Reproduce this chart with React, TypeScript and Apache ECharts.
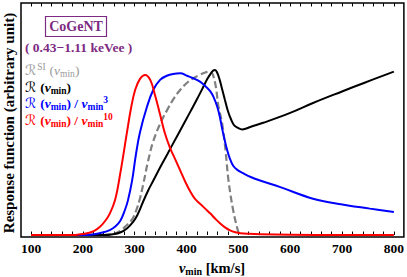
import React, { useEffect, useRef } from "react";
import * as echarts from "echarts";

// x positions (v_min, km/s) and response values (normalized) per curve
const grayV = [240, 258, 272, 283, 295, 303, 310, 316, 326, 336, 350, 363, 376, 388, 400, 413, 425, 436, 446, 451, 457, 461, 469, 475, 481, 490, 498, 502, 505];
const grayR = [0, 0.005, 0.025, 0.055, 0.095, 0.15, 0.22, 0.3, 0.45, 0.57, 0.68, 0.76, 0.83, 0.88, 0.92, 0.95, 0.97, 0.985, 0.99, 0.97, 0.89, 0.79, 0.67, 0.52, 0.33, 0.15, 0.04, 0.005, 0];

const blackV = [100, 200, 240, 258, 272, 285, 297, 305, 316, 326, 336, 350, 363, 375, 388, 400, 413, 423, 432, 440, 446, 451, 455, 459, 464, 469, 474, 480, 486, 492, 500, 507, 515, 523, 548, 600, 644, 700, 741, 800];
const blackR = [0, 0, 0, 0.005, 0.015, 0.04, 0.08, 0.12, 0.2, 0.27, 0.33, 0.415, 0.49, 0.56, 0.635, 0.705, 0.78, 0.84, 0.895, 0.945, 0.975, 0.995, 1.0, 0.985, 0.94, 0.88, 0.82, 0.75, 0.7, 0.665, 0.648, 0.64, 0.645, 0.655, 0.68, 0.74, 0.8, 0.87, 0.92, 0.99];

const blueV = [100, 200, 222, 238, 252, 262, 272, 281, 287, 295, 302, 310, 324, 336, 349, 362, 374, 388, 401, 413, 426, 437, 446, 453, 459, 464, 469, 474, 478, 484, 490, 498, 509, 525, 542, 581, 644, 691, 754, 800];
const blueR = [0, 0, 0.005, 0.015, 0.03, 0.05, 0.085, 0.15, 0.21, 0.33, 0.48, 0.62, 0.78, 0.88, 0.94, 0.965, 0.976, 0.98, 0.965, 0.95, 0.93, 0.9, 0.87, 0.83, 0.78, 0.72, 0.64, 0.57, 0.52, 0.46, 0.42, 0.395, 0.375, 0.35, 0.33, 0.29, 0.22, 0.19, 0.16, 0.14];

const redV = [100, 180, 195, 210, 222, 233, 243, 252, 262, 272, 285, 293, 301, 310, 320, 330, 339, 349, 358, 368, 378, 388, 398, 407, 416, 426, 436, 446, 455, 465, 475, 484, 494, 504, 520, 542, 600, 700, 800];
const redR = [0, 0, 0.004, 0.012, 0.025, 0.05, 0.085, 0.13, 0.21, 0.37, 0.62, 0.77, 0.88, 0.945, 0.97, 0.94, 0.85, 0.73, 0.62, 0.53, 0.46, 0.39, 0.32, 0.265, 0.22, 0.19, 0.16, 0.13, 0.1, 0.07, 0.045, 0.028, 0.017, 0.011, 0.007, 0.004, 0.001, 0, 0];

const xLabels = [100, 200, 300, 400, 500, 600, 700, 800];
const xTicks = [100, 120, 140, 160, 180, 200, 220, 240, 260, 280, 300, 320, 340, 360, 380, 400, 420, 440, 460, 480, 500, 520, 540, 560, 580, 600, 620, 640, 660, 680, 700, 720, 740, 760, 780, 800];

const zip = (a: number[], b: number[]) => a.map((v, i) => [v, b[i]]);

const SERIF = "'Liberation Serif', 'DejaVu Serif', serif";
const PURPLE = "#7d2a82";
const SP = "\u00a0";

function legendRich(color: string, bold: boolean) {
  const fw = bold ? "bold" : "normal";
  return {
    r: { fontFamily: "'DejaVu Sans', sans-serif", fontStyle: "italic", fontSize: 14, fontWeight: "normal", fill: color, lineHeight: 17, padding: [0, 4, 0, 0] },
    r0: { fontFamily: "'DejaVu Sans', sans-serif", fontStyle: "italic", fontSize: 14, fontWeight: "normal", fill: color, lineHeight: 17, padding: [0, 1, 0, 0] },
    t: { fontFamily: SERIF, fontSize: 13.5, fontWeight: fw, fill: color, lineHeight: 17 },
    v: { fontFamily: SERIF, fontSize: 13.5, fontWeight: fw, fontStyle: "italic", fill: color, lineHeight: 17 },
    sub: { fontFamily: SERIF, fontSize: 9.5, fontWeight: fw, fill: color, lineHeight: 10, verticalAlign: "bottom" },
    sup: { fontFamily: SERIF, fontSize: 9.5, fontWeight: fw, fill: color, lineHeight: 10, verticalAlign: "top", padding: [0, 4, 0, 0] },
  };
}

export default function App() {
  const ref = useRef<HTMLDivElement>(null);
  useEffect(() => {
    const chart = echarts.init(ref.current!, null, { renderer: "svg" });
    const tickCommon = {
      show: true,
      inside: true,
      length: 3.5,
      customValues: xTicks,
      lineStyle: { color: "#000", width: 1 },
    };
    chart.setOption({
      animation: false,
      backgroundColor: "#fff",
      grid: { left: 21, right: 3, top: 3, bottom: 40, show: true, borderColor: "#000", borderWidth: 1.5, backgroundColor: "transparent" },
      xAxis: [
        {
          type: "value",
          min: 80.7,
          max: 819.3,
          position: "bottom",
          axisLine: { show: false },
          splitLine: { show: false },
          axisTick: tickCommon,
          axisLabel: {
            customValues: xLabels,
            fontFamily: SERIF,
            fontWeight: "bold",
            fontSize: 13.5,
            color: "#000",
            margin: 4,
          },
        },
        {
          type: "value",
          min: 80.7,
          max: 819.3,
          position: "top",
          axisLine: { show: false },
          splitLine: { show: false },
          axisTick: tickCommon,
          axisLabel: { show: false },
        },
      ],
      yAxis: { type: "value", min: -0.012, max: 1.406, show: false },
      series: [
        {
          type: "line", name: "gray", data: zip(grayV, grayR), showSymbol: false, smooth: 0.4,
          lineStyle: { color: "#808080", width: 2.2, type: [7, 3.5] }, z: 2,
        },
        {
          type: "line", name: "black", data: zip(blackV, blackR), showSymbol: false, smooth: 0.4,
          lineStyle: { color: "#000", width: 2 }, z: 3,
        },
        {
          type: "line", name: "blue", data: zip(blueV, blueR), showSymbol: false, smooth: 0.4,
          lineStyle: { color: "#0000ff", width: 2 }, z: 4,
        },
        {
          type: "line", name: "red", data: zip(redV, redR), showSymbol: false, smooth: 0.4,
          lineStyle: { color: "#ff0000", width: 2 }, z: 5,
        },
      ],
      graphic: [
        {
          type: "rect", shape: { x: 45.5, y: 16.5, width: 61, height: 20 },
          style: { fill: "none", stroke: PURPLE, lineWidth: 1.2 },
        },
        {
          type: "text", x: 76, y: 26.5,
          style: { text: "CoGeNT", font: `bold 14px ${SERIF}`, fill: PURPLE, align: "center", verticalAlign: "middle" },
        },
        {
          type: "text", x: 25, y: 47,
          style: { text: `(${SP}0.43\u22121.11 keVee${SP})`, font: `bold 13.5px ${SERIF}`, fill: PURPLE, align: "left", verticalAlign: "middle" },
        },
        {
          type: "text", x: 25, y: 70,
          style: {
            text: `{r0|\u211B}{sup|SI}{t|(}{v|v}{sub|min}{t|)}`,
            rich: legendRich("#999999", false), align: "left", verticalAlign: "middle",
          },
        },
        {
          type: "text", x: 25, y: 87,
          style: {
            text: `{r|\u211B}{t|(}{v|v}{sub|min}{t|)}`,
            rich: legendRich("#000000", true), align: "left", verticalAlign: "middle",
          },
        },
        {
          type: "text", x: 25, y: 103,
          style: {
            text: `{r|\u211B}{t|(}{v|v}{sub|min}{t|)${SP}/${SP}}{v|v}{sub|min}{sup|3}`,
            rich: legendRich("#0000ff", true), align: "left", verticalAlign: "middle",
          },
        },
        {
          type: "text", x: 25, y: 120,
          style: {
            text: `{r|\u211B}{t|(}{v|v}{sub|min}{t|)${SP}/${SP}}{v|v}{sub|min}{sup|10}`,
            rich: legendRich("#ff0000", true), align: "left", verticalAlign: "middle",
          },
        },
        {
          type: "text", x: 212, y: 268,
          style: {
            text: `{v|v}{sub|min}{t|${SP}[km/s]}`,
            rich: {
              t: { fontFamily: SERIF, fontSize: 14.5, fontWeight: "bold", fill: "#000", lineHeight: 17 },
              v: { fontFamily: SERIF, fontSize: 14.5, fontWeight: "bold", fontStyle: "italic", fill: "#000", lineHeight: 17 },
              sub: { fontFamily: SERIF, fontSize: 10, fontWeight: "bold", fill: "#000", lineHeight: 10, verticalAlign: "bottom" },
            },
            align: "center", verticalAlign: "middle",
          },
        },
        {
          type: "text", x: 9, y: 123, rotation: Math.PI / 2,
          style: {
            text: "Response function (arbitrary unit)",
            font: `bold 15px ${SERIF}`, fill: "#000", align: "center", verticalAlign: "middle",
          },
        },
      ],
    });
    return () => chart.dispose();
  }, []);
  return <div ref={ref} style={{ position: "fixed", left: 0, top: 0, width: 407, height: 277 }} />;
}
